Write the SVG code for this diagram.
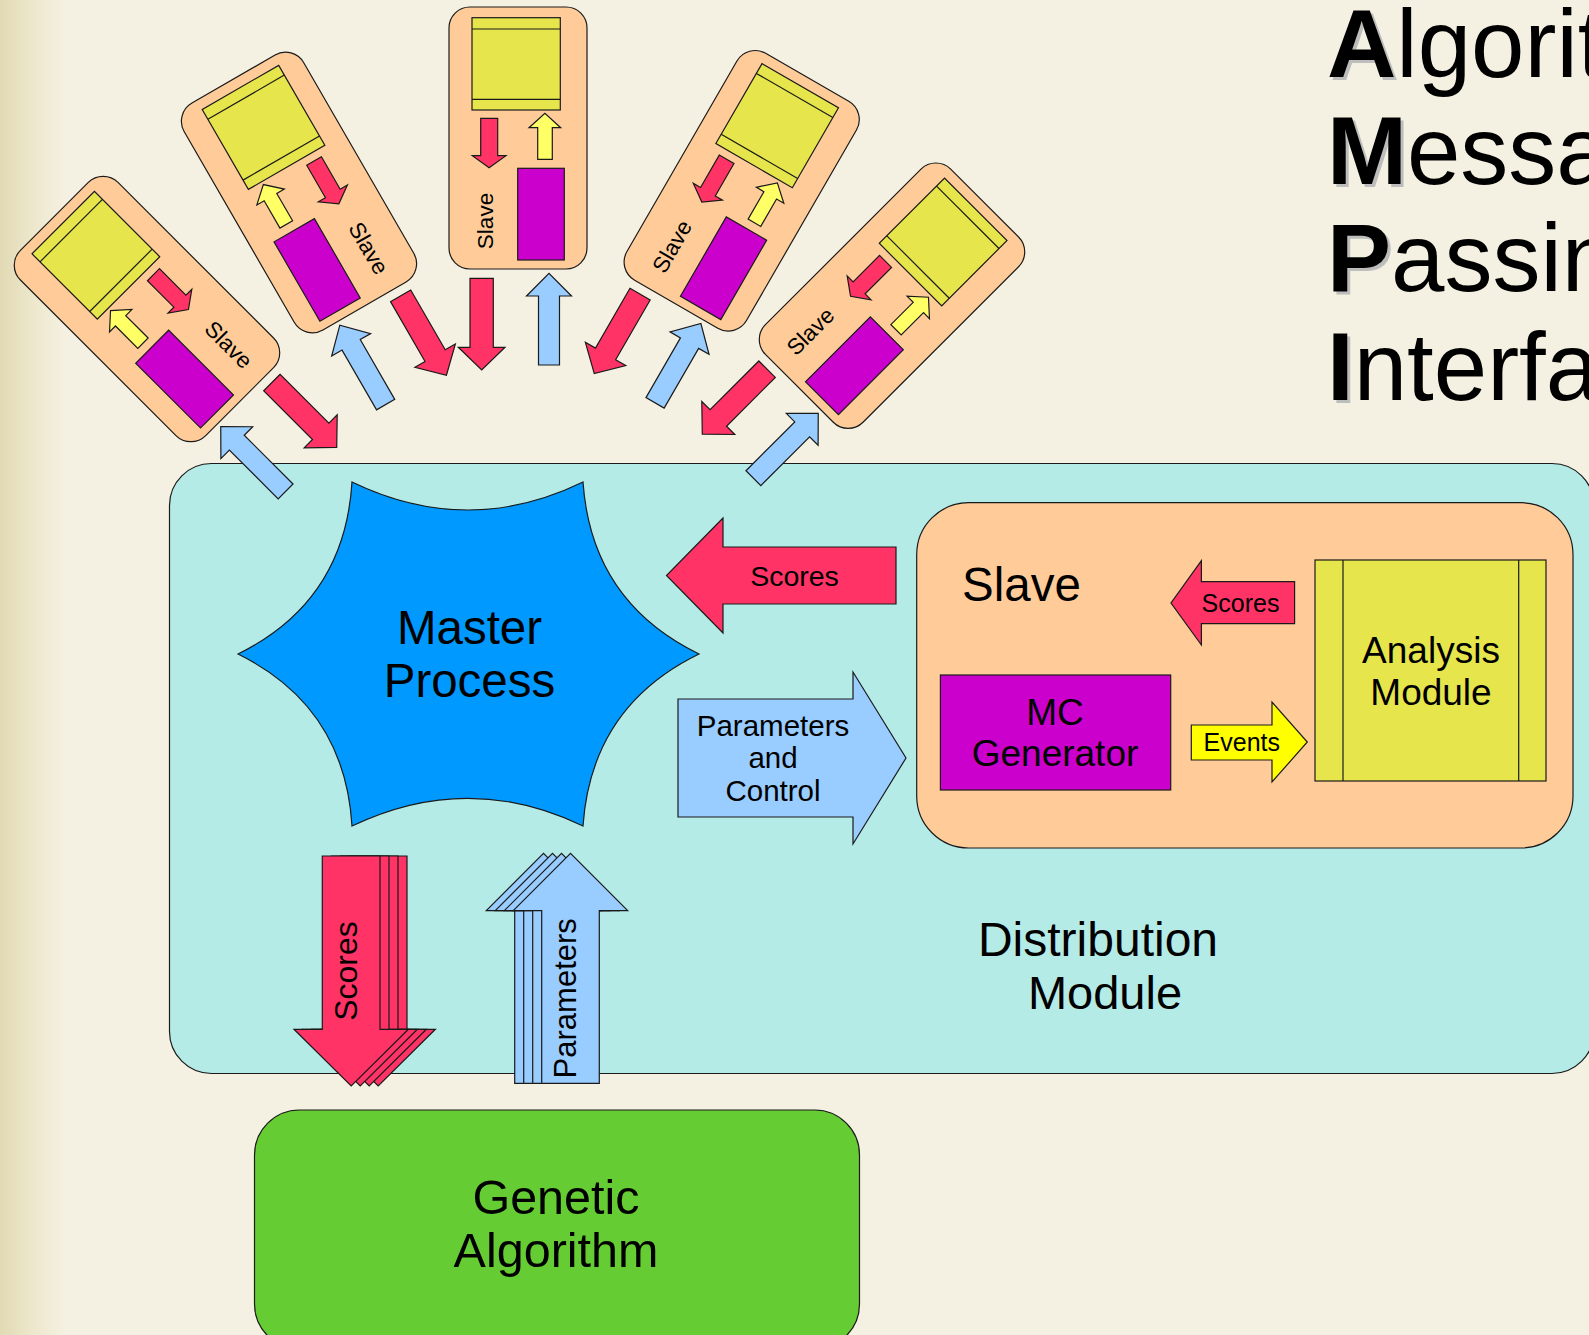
<svg xmlns="http://www.w3.org/2000/svg" xmlns:xlink="http://www.w3.org/1999/xlink" width="1589" height="1335" viewBox="0 0 1589 1335">
  <style>
    .sh { stroke: #1a1a1a; stroke-width: 1.2; stroke-linejoin: miter; }
    .peach { fill: #FFCC99; }
    .ana { fill: #E6E64C; }
    .red { fill: #FF3366; }
    .yel { fill: #FFFF66; }
    .ev { fill: #FFFF00; }
    .mag { fill: #CC00CC; }
    .blu { fill: #99CCFF; }
    .teal { fill: #B5EBE6; }
    .star { fill: #0099FF; }
    .green { fill: #66CC33; }
    text { font-family: "Liberation Sans", Arial, Helvetica, sans-serif; fill: #000; }
    .c { text-anchor: middle; }
    .title { font-size: 96px; }
    .shadow { fill: #BDBDBD; font-weight: bold; }
  </style>
  <defs>
    <linearGradient id="edge" x1="0" y1="0" x2="1" y2="0">
      <stop offset="0" stop-color="#E2DAB4"/>
      <stop offset="0.45" stop-color="#ECE6CA"/>
      <stop offset="1" stop-color="#F5F1E2"/>
    </linearGradient>
    <!-- small slave icon, local frame centred on the card -->
    <g id="slave-icon">
      <rect class="peach sh" x="-69" y="-131" width="138" height="262" rx="21"/>
      <rect class="ana sh" x="-46" y="-120.3" width="88.3" height="92.3"/>
      <line class="sh" x1="-46" y1="-109" x2="42.3" y2="-109"/>
      <line class="sh" x1="-46" y1="-38.7" x2="42.3" y2="-38.7"/>
      <path class="red sh" d="M -37.3,-19.7 H -20.3 V 17.7 H -12 L -28.9,29.7 L -45.7,17.7 H -37.3 Z"/>
      <path class="yel sh" d="M 19.7,21.3 V -10.3 H 11 L 26.9,-24.7 L 42.7,-10.3 H 34.3 V 21.3 Z"/>
      <rect class="mag sh" x="-0.3" y="30.3" width="46.6" height="91.7"/>
    </g>
    <!-- link arrows between a slave card and the master -->
    <path id="out-red" class="red sh" d="M -48,140.3 H -24.7 V 209.3 H -13 L -36.3,232 L -59.7,209.3 H -48 Z"/>
    <path id="out-blue" class="blu sh" d="M 20.5,227 V 158 H 8.5 L 31,135.3 L 53.5,158 H 41.5 V 227 Z"/>
    <path id="scores-down" class="red sh" d="M 322.3,856 H 380 V 1029.3 H 408.4 L 351.2,1086 L 294,1029.3 H 322.3 Z"/>
    <path id="params-up" class="blu sh" d="M 541.7,1083.3 V 910.7 H 513.3 L 570.5,853.3 L 627.7,910.7 H 599.3 V 1083.3 Z"/>
  </defs>

  <!-- page background -->
  <rect x="0" y="0" width="1589" height="1335" fill="#F5F1E2"/>
  <rect x="0" y="0" width="66" height="1335" fill="url(#edge)"/>

  <!-- title -->
  <g id="title" class="title">
    <text class="shadow" x="1330" y="80.3">A</text>
    <text x="1327" y="77.3"><tspan font-weight="bold">A</tspan>lgorithm</text>
    <text class="shadow" x="1330" y="187">M</text>
    <text x="1327" y="184"><tspan font-weight="bold">M</tspan>essage</text>
    <text class="shadow" x="1330" y="293.7">P</text>
    <text x="1327" y="290.7"><tspan font-weight="bold">P</tspan>assing</text>
    <text class="shadow" x="1330" y="403">I</text>
    <text x="1327" y="400"><tspan font-weight="bold">I</tspan>nterface</text>
  </g>

  <!-- distribution module -->
  <g id="distribution-module">
    <rect class="teal sh" x="169.5" y="463.5" width="1424.5" height="610" rx="42"/>
    <text class="c" font-size="48" x="1098" y="955.6">Distribution</text>
    <text class="c" font-size="47" x="1105" y="1009">Module</text>
  </g>

  <!-- master process -->
  <g id="master-process">
    <path class="star sh" d="M 352,482 Q 468,538 583,482 Q 591.3,601.5 699,654 Q 591.3,706.5 583,826 Q 468,770.6 352,826 Q 344.7,706.5 238,654 Q 344.7,601.5 352,482 Z"/>
    <text class="c" font-size="47.5" x="469.5" y="644">Master</text>
    <text class="c" font-size="47.5" x="469.5" y="697">Process</text>
  </g>

  <!-- local slave detail -->
  <g id="slave-detail">
    <rect class="peach sh" x="916.7" y="502.7" width="656.3" height="345.3" rx="52"/>
    <text font-size="47.5" x="962" y="601">Slave</text>
  </g>
  <g id="mc-generator">
    <rect class="mag sh" x="940.4" y="675" width="230.3" height="115"/>
    <text class="c" font-size="37" x="1055" y="725">MC</text>
    <text class="c" font-size="37" x="1055" y="766">Generator</text>
  </g>
  <g id="analysis-module">
    <rect class="ana sh" x="1315" y="560" width="231" height="221"/>
    <line class="sh" x1="1343" y1="560" x2="1343" y2="781"/>
    <line class="sh" x1="1518.7" y1="560" x2="1518.7" y2="781"/>
    <text class="c" font-size="37" x="1431" y="662.5">Analysis</text>
    <text class="c" font-size="37" x="1431" y="704.5">Module</text>
  </g>

  <!-- genetic algorithm -->
  <g id="genetic-algorithm">
    <rect class="green sh" x="254.5" y="1110" width="605" height="239" rx="45"/>
    <text class="c" font-size="48.5" x="556" y="1214">Genetic</text>
    <text class="c" font-size="48.5" x="556" y="1267">Algorithm</text>
  </g>

  <!-- remote slaves -->
  <g id="slave-1" transform="translate(147,309) rotate(-45)">
    <use xlink:href="#slave-icon" href="#slave-icon" transform="scale(-1,1)"/>
    <text class="c" font-size="22.5" transform="translate(24.7,83) rotate(90)">Slave</text>
  </g>
  <g id="slave-2" transform="translate(299,192.5) rotate(-30)">
    <use xlink:href="#slave-icon" href="#slave-icon" transform="scale(-1,1)"/>
    <text class="c" font-size="22.5" transform="translate(24.7,83) rotate(90)">Slave</text>
  </g>
  <g id="slave-3" transform="translate(518,138)">
    <use xlink:href="#slave-icon" href="#slave-icon"/>
    <text class="c" font-size="22.5" transform="translate(-24.7,83) rotate(-90)">Slave</text>
  </g>
  <g id="slave-4" transform="translate(741.7,190.8) rotate(30)">
    <use xlink:href="#slave-icon" href="#slave-icon"/>
    <text class="c" font-size="22.5" transform="translate(-24.7,83) rotate(-90)">Slave</text>
  </g>
  <g id="slave-5" transform="translate(892,295.7) rotate(45)">
    <use xlink:href="#slave-icon" href="#slave-icon"/>
    <text class="c" font-size="22.5" transform="translate(-24.7,83) rotate(-90)">Slave</text>
  </g>

  <!-- connectors -->
  <g id="connectors">
    <g transform="translate(147,309) rotate(-45) scale(-1,1)">
      <use xlink:href="#out-red" href="#out-red"/><use xlink:href="#out-blue" href="#out-blue"/>
    </g>
    <g transform="translate(299,192.5) rotate(-30) scale(-1,1)">
      <use xlink:href="#out-red" href="#out-red"/><use xlink:href="#out-blue" href="#out-blue"/>
    </g>
    <g transform="translate(518,138)">
      <use xlink:href="#out-red" href="#out-red"/><use xlink:href="#out-blue" href="#out-blue"/>
    </g>
    <g transform="translate(741.7,190.8) rotate(30)">
      <use xlink:href="#out-red" href="#out-red"/><use xlink:href="#out-blue" href="#out-blue"/>
    </g>
    <g transform="translate(892,295.7) rotate(45)">
      <use xlink:href="#out-red" href="#out-red"/><use xlink:href="#out-blue" href="#out-blue"/>
    </g>

    <!-- slave -> master scores -->
    <path class="red sh" d="M 896,547 H 723 V 518 L 666.5,575.5 L 723,633 V 604 H 896 Z"/>
    <text class="c" font-size="28.5" x="794.5" y="585.5">Scores</text>

    <!-- master -> slave parameters -->
    <path class="blu sh" d="M 678,699 H 853 V 672 L 906,758 L 853,844 V 817 H 678 Z"/>
    <text class="c" font-size="29.5" x="773" y="735.7">Parameters</text>
    <text class="c" font-size="29.5" x="773" y="768">and</text>
    <text class="c" font-size="29.5" x="773" y="800.5">Control</text>

    <!-- inside the slave -->
    <path class="red sh" d="M 1294.6,581.7 H 1201.4 V 560.7 L 1171,603 L 1201.4,645 V 623.7 H 1294.6 Z"/>
    <text class="c" font-size="25" x="1240.5" y="611.7">Scores</text>
    <path class="ev sh" d="M 1191.3,725 H 1272 V 702 L 1307.3,742 L 1272,782 V 760 H 1191.3 Z"/>
    <text class="c" font-size="25" x="1241.8" y="751">Events</text>

    <!-- master <-> genetic algorithm (stacked) -->
    <use xlink:href="#scores-down" href="#scores-down" transform="translate(27,0)"/>
    <use xlink:href="#scores-down" href="#scores-down" transform="translate(18,0)"/>
    <use xlink:href="#scores-down" href="#scores-down" transform="translate(9,0)"/>
    <use xlink:href="#scores-down" href="#scores-down"/>
    <text class="c" font-size="32" transform="translate(357,971) rotate(-90)">Scores</text>

    <use xlink:href="#params-up" href="#params-up" transform="translate(-27,0)"/>
    <use xlink:href="#params-up" href="#params-up" transform="translate(-18,0)"/>
    <use xlink:href="#params-up" href="#params-up" transform="translate(-9,0)"/>
    <use xlink:href="#params-up" href="#params-up"/>
    <text class="c" font-size="31" transform="translate(576,998.3) rotate(-90)">Parameters</text>
  </g>
</svg>
